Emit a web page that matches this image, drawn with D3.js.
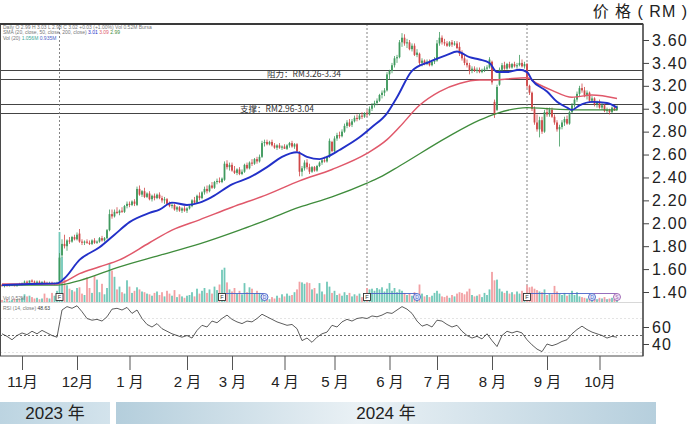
<!DOCTYPE html>
<html><head><meta charset="utf-8">
<script src="https://cdn.jsdelivr.net/npm/d3@7/dist/d3.min.js"></script>
<style>
body{margin:0;background:#fff;}
svg{display:block;}
</style></head><body>
<svg id="chart" width="690" height="424"></svg>
<script>
// ---------------- DATA ----------------
const openP = [
1.46,1.45,1.46,1.45,1.46,1.46,1.45,1.47,1.46,1.48,
1.49,1.48,1.50,1.49,1.48,1.49,1.48,1.49,1.48,1.47,
1.48,1.47,1.48,1.50,1.72,1.82,1.80,1.85,1.84,1.88,
1.86,1.91,1.84,1.83,1.84,1.83,1.82,1.85,1.83,1.84,
1.87,1.85,1.87,1.94,2.08,2.06,2.10,2.09,2.11,2.10,
2.15,2.17,2.16,2.19,2.16,2.30,2.25,2.28,2.23,2.26,
2.21,2.24,2.22,2.25,2.22,2.20,2.21,2.17,2.15,2.16,
2.12,2.14,2.11,2.13,2.11,2.13,2.15,2.20,2.18,2.24,
2.22,2.27,2.30,2.28,2.33,2.31,2.36,2.37,2.36,2.38,
2.52,2.49,2.51,2.46,2.44,2.47,2.43,2.45,2.51,2.48,
2.53,2.52,2.56,2.54,2.58,2.70,2.71,2.69,2.71,2.68,
2.66,2.68,2.66,2.67,2.65,2.68,2.70,2.67,2.69,2.62,
2.45,2.48,2.53,2.49,2.45,2.49,2.46,2.50,2.53,2.55,
2.54,2.58,2.71,2.63,2.74,2.77,2.76,2.80,2.85,2.88,
2.86,2.89,2.92,2.91,2.94,2.93,2.96,2.95,3.00,3.03,
3.05,3.07,3.12,3.14,3.16,3.30,3.33,3.38,3.44,3.45,
3.58,3.62,3.57,3.58,3.52,3.55,3.47,3.48,3.40,3.42,
3.39,3.41,3.38,3.41,3.42,3.57,3.62,3.58,3.57,3.55,
3.58,3.56,3.57,3.54,3.48,3.44,3.40,3.38,3.33,3.35,
3.33,3.34,3.32,3.34,3.35,3.36,3.41,3.06,2.99,3.21,
3.34,3.38,3.35,3.39,3.36,3.39,3.37,3.38,3.40,3.37,
3.39,3.20,3.14,3.00,2.88,2.82,2.90,2.80,2.97,2.95,
2.99,2.93,2.88,2.82,2.84,2.88,2.91,2.87,2.97,3.03,
3.08,3.13,3.18,3.16,3.12,3.14,3.07,3.09,3.04,3.06,
3.01,3.03,2.98,2.99,2.97,3.01,2.99];
const highP = [
1.47,1.46,1.47,1.46,1.47,1.46,1.47,1.48,1.48,1.50,
1.50,1.50,1.51,1.50,1.50,1.50,1.49,1.50,1.49,1.49,
1.49,1.48,1.49,1.74,1.86,1.90,1.86,1.88,1.89,1.90,
1.92,1.95,1.86,1.85,1.86,1.85,1.86,1.87,1.85,1.88,
1.89,1.88,1.95,2.12,2.12,2.12,2.14,2.12,2.14,2.16,
2.19,2.19,2.20,2.21,2.32,2.33,2.29,2.31,2.27,2.28,
2.25,2.26,2.26,2.27,2.24,2.23,2.22,2.19,2.18,2.17,
2.15,2.15,2.14,2.15,2.14,2.16,2.21,2.23,2.25,2.27,
2.28,2.32,2.33,2.34,2.36,2.37,2.39,2.40,2.40,2.54,
2.55,2.53,2.53,2.50,2.48,2.49,2.47,2.52,2.53,2.54,
2.56,2.57,2.58,2.60,2.72,2.73,2.73,2.72,2.73,2.70,
2.69,2.70,2.68,2.69,2.69,2.71,2.72,2.70,2.70,2.63,
2.50,2.55,2.56,2.52,2.50,2.50,2.51,2.54,2.56,2.58,
2.59,2.74,2.72,2.76,2.79,2.80,2.82,2.87,2.90,2.91,
2.91,2.94,2.95,2.96,2.97,2.97,2.99,3.02,3.05,3.07,
3.09,3.13,3.16,3.18,3.32,3.34,3.40,3.46,3.47,3.60,
3.66,3.65,3.61,3.60,3.57,3.57,3.52,3.49,3.44,3.43,
3.43,3.43,3.42,3.45,3.60,3.67,3.64,3.61,3.59,3.59,
3.60,3.59,3.59,3.58,3.51,3.47,3.43,3.40,3.37,3.37,
3.36,3.36,3.35,3.37,3.38,3.45,3.42,3.08,3.21,3.36,
3.40,3.41,3.40,3.41,3.40,3.41,3.40,3.47,3.43,3.41,
3.40,3.21,3.15,3.02,2.95,2.93,2.93,2.99,3.01,3.01,
3.01,2.95,2.90,2.86,2.90,2.93,2.94,2.98,3.05,3.10,
3.15,3.20,3.22,3.19,3.16,3.15,3.11,3.10,3.07,3.08,
3.05,3.04,3.01,3.00,3.02,3.03,3.03];
const lowP = [
1.45,1.44,1.45,1.45,1.45,1.45,1.45,1.46,1.46,1.47,
1.48,1.48,1.48,1.48,1.48,1.47,1.47,1.48,1.47,1.47,
1.47,1.46,1.47,1.49,1.70,1.78,1.76,1.82,1.83,1.85,
1.85,1.83,1.81,1.81,1.82,1.81,1.81,1.82,1.82,1.83,
1.84,1.84,1.86,1.93,2.04,2.05,2.08,2.07,2.09,2.09,
2.13,2.14,2.15,2.15,2.15,2.24,2.23,2.22,2.22,2.20,
2.19,2.20,2.21,2.21,2.18,2.17,2.16,2.14,2.13,2.11,
2.10,2.10,2.09,2.10,2.09,2.12,2.14,2.17,2.17,2.20,
2.21,2.25,2.26,2.27,2.30,2.30,2.34,2.35,2.35,2.37,
2.47,2.46,2.45,2.43,2.42,2.42,2.42,2.44,2.47,2.47,
2.50,2.51,2.52,2.53,2.57,2.67,2.68,2.68,2.67,2.65,
2.64,2.65,2.64,2.65,2.64,2.66,2.66,2.65,2.62,2.41,
2.41,2.46,2.47,2.43,2.44,2.45,2.45,2.49,2.51,2.53,
2.53,2.57,2.62,2.62,2.72,2.74,2.75,2.79,2.83,2.84,
2.84,2.88,2.89,2.90,2.91,2.92,2.93,2.94,2.98,3.01,
3.03,3.06,3.09,3.11,3.15,3.26,3.31,3.36,3.40,3.44,
3.54,3.55,3.53,3.51,3.50,3.46,3.45,3.38,3.37,3.38,
3.38,3.37,3.37,3.39,3.41,3.55,3.56,3.55,3.54,3.54,
3.54,3.55,3.52,3.46,3.42,3.38,3.36,3.30,3.31,3.32,
3.31,3.31,3.31,3.32,3.33,3.35,3.21,2.92,2.98,3.20,
3.32,3.34,3.34,3.35,3.35,3.36,3.35,3.37,3.36,3.35,
3.18,3.12,2.98,2.86,2.80,2.75,2.78,2.79,2.93,2.93,
2.92,2.86,2.80,2.67,2.82,2.85,2.86,2.86,2.96,3.01,
3.06,3.11,3.14,3.10,3.08,3.06,3.05,3.02,3.01,3.00,
2.99,2.97,2.96,2.95,2.96,2.98,2.98];
const closeP = [
1.45,1.46,1.45,1.46,1.46,1.45,1.47,1.46,1.48,1.49,
1.48,1.50,1.49,1.48,1.49,1.48,1.49,1.48,1.47,1.48,
1.47,1.48,1.48,1.70,1.82,1.80,1.85,1.84,1.88,1.86,
1.90,1.84,1.83,1.84,1.83,1.82,1.85,1.83,1.84,1.87,
1.85,1.87,1.94,2.08,2.06,2.10,2.09,2.11,2.10,2.15,
2.17,2.16,2.19,2.17,2.30,2.25,2.28,2.23,2.26,2.21,
2.24,2.22,2.25,2.22,2.20,2.21,2.17,2.15,2.16,2.12,
2.14,2.11,2.13,2.11,2.13,2.15,2.20,2.18,2.24,2.22,
2.27,2.30,2.28,2.33,2.31,2.36,2.37,2.36,2.39,2.52,
2.49,2.51,2.46,2.44,2.47,2.43,2.45,2.51,2.48,2.53,
2.52,2.56,2.54,2.58,2.70,2.71,2.69,2.71,2.68,2.66,
2.68,2.66,2.67,2.65,2.68,2.70,2.67,2.69,2.63,2.45,
2.48,2.53,2.49,2.45,2.49,2.46,2.50,2.53,2.55,2.54,
2.58,2.72,2.63,2.74,2.77,2.76,2.80,2.85,2.88,2.85,
2.89,2.92,2.91,2.94,2.93,2.96,2.95,3.00,3.03,3.05,
3.07,3.12,3.14,3.16,3.30,3.33,3.38,3.44,3.45,3.58,
3.62,3.57,3.58,3.52,3.55,3.47,3.49,3.40,3.42,3.39,
3.41,3.38,3.41,3.42,3.57,3.62,3.58,3.57,3.55,3.58,
3.56,3.57,3.53,3.48,3.44,3.40,3.38,3.33,3.35,3.33,
3.34,3.32,3.34,3.35,3.36,3.43,3.23,2.95,3.19,3.34,
3.38,3.35,3.39,3.36,3.39,3.37,3.38,3.40,3.37,3.39,
3.20,3.14,3.00,2.88,2.82,2.90,2.80,2.97,2.95,2.99,
2.93,2.88,2.82,2.84,2.88,2.91,2.87,2.97,3.03,3.08,
3.13,3.18,3.16,3.12,3.14,3.07,3.09,3.04,3.06,3.01,
3.03,2.98,2.99,2.97,3.01,2.99,3.02];
// volume, millions of shares
const volume = [
0.3,0.2,0.4,0.2,0.3,0.5,0.4,0.3,0.6,1.1,
0.8,0.9,0.7,0.5,0.6,0.4,0.5,1.2,0.6,0.5,
1.3,0.9,1.6,10.0,6.4,3.2,2.4,1.9,1.7,1.5,
2.0,2.1,1.2,1.0,3.5,2.0,1.3,3.7,3.2,1.4,
2.6,1.1,2.0,5.5,4.5,3.6,1.8,2.2,1.4,1.2,
3.1,2.2,1.3,1.6,2.1,1.8,1.5,1.4,1.2,1.1,
0.9,1.3,1.5,1.0,1.4,0.8,1.6,1.2,0.9,1.7,
0.7,1.1,0.8,0.6,0.9,1.0,1.4,0.8,1.9,1.2,
1.6,2.0,1.3,1.8,1.2,2.2,1.7,2.5,4.6,4.9,
2.8,1.8,1.5,2.0,1.2,1.6,1.1,2.7,1.4,2.1,
1.9,1.2,1.6,1.3,1.0,0.6,0.5,0.4,0.7,0.5,
0.9,0.6,1.1,0.8,1.2,0.9,1.0,1.4,1.8,2.9,
2.8,2.6,2.8,2.7,1.8,2.0,1.2,2.7,1.5,1.1,
2.9,2.2,1.3,1.6,1.0,1.2,0.9,1.4,1.0,1.3,
0.8,1.1,0.9,1.2,0.7,1.0,2.0,1.8,1.9,1.6,
2.0,1.8,2.1,1.5,1.9,2.7,1.6,2.0,1.4,1.8,
1.6,1.3,1.0,1.2,0.9,1.4,1.1,2.5,1.2,0.8,
1.0,0.7,0.9,1.3,1.6,1.2,0.8,0.7,0.9,0.6,
1.0,0.8,1.2,1.4,1.3,1.1,1.5,1.9,1.0,0.8,
0.9,1.1,0.7,1.3,1.0,1.8,4.3,3.1,3.2,1.9,
1.5,1.3,1.6,1.2,1.4,1.1,1.5,1.2,1.6,1.3,
2.4,2.1,2.2,1.9,1.7,1.5,1.4,1.8,1.0,1.2,
1.1,2.3,1.5,1.2,1.0,1.3,0.9,1.1,1.6,1.0,
1.4,0.8,0.7,0.6,0.5,0.7,0.5,0.6,0.4,0.6,
0.5,0.7,0.4,0.5,0.6,0.4,0.5];

// moving averages (trading-day index, price)
const ma20Days = [0,11,22,25,31,39,45,51,59,63,68,74,79,84,92,99,106,112,118,122,127,130,135,143,148,154,158,164,171,178,182,187,191,195,198,202,207,210,212,218,222,226,228,231,236,242,246];
const ma20Vals = [1.46,1.47,1.475,1.52,1.68,1.79,1.90,2.01,2.09,2.12,2.18,2.16,2.18,2.23,2.34,2.40,2.49,2.58,2.62,2.58,2.56,2.58,2.64,2.75,2.84,2.96,3.10,3.33,3.41,3.47,3.50,3.45,3.43,3.40,3.32,3.32,3.34,3.32,3.25,3.15,3.06,3.01,2.99,3.03,3.06,3.05,3.01];
const ma50Days = [0,22,25,31,39,47,59,68,79,92,106,119,132,146,154,159,167,175,183,191,196,202,210,214,220,228,236,246];
const ma50Vals = [1.47,1.47,1.49,1.56,1.62,1.68,1.83,1.94,2.03,2.14,2.25,2.37,2.47,2.61,2.73,2.84,3.03,3.15,3.22,3.25,3.25,3.26,3.27,3.22,3.16,3.10,3.12,3.09];
const ma200Days = [0,22,31,47,63,79,95,106,119,132,146,151,159,178,191,198,210,218,231,246];
const ma200Vals = [1.46,1.46,1.50,1.62,1.72,1.82,1.94,2.03,2.14,2.23,2.35,2.40,2.50,2.75,2.90,2.96,3.01,3.00,2.99,2.99];

// RSI(14), one reading every second trading day
const rsiVals = [52,49,45,50,53,51,55,52,56,53,50,48,
80,84,82,85,78,70,68,69,67,72,81,82,80,83,76,80,70,63,60,64,58,55,52,50,48,50,47,56,
62,60,67,65,70,74,69,66,64,67,66,70,75,72,69,66,64,62,63,58,44,47,42,48,52,54,62,60,
66,69,67,70,71,70,73,72,74,77,76,80,84,81,76,67,61,63,60,68,67,63,60,62,55,50,47,49,
46,52,44,37,50,55,53,55,53,45,39,34,31,40,38,40,43,45,52,57,61,57,54,52,50,47,49,48];

const priceTicks = [3.60,3.40,3.20,3.00,2.80,2.60,2.40,2.20,2.00,1.80,1.60,1.40];
const rsiTicks = [60,40];
const monthDays = [8,30,51,74,92,113,133,155,174,196,218,239];
const monthLabels = ["11月","12月","1 月","2 月","3 月","4 月","5 月","6 月","7 月","8 月","9 月","10月"];
const resistance = [3.26,3.34];
const support = [2.96,3.04];
const earningsDays = [23,88,146,210];   // "F" markers
const dividendDays = [105,166,236];     // "D" markers
const otherDays = [246];
const dottedDays = [23,146,210];

// ---------------- DRAW ----------------
const svg = d3.select("#chart");
const L = 0, R = 643, T = 24, B = 356;
const x = d3.scaleLinear().domain([0, closeP.length - 1]).range([2, 617]);
const y = d3.scaleLinear().domain([1.40, 3.60]).range([292, 40]);
const yVol = d3.scaleLinear().domain([0, 10]).range([302, 232]);
const yRsi = d3.scaleLinear().domain([40, 60]).range([344, 327]);

const defs = svg.append("defs");
defs.append("clipPath").attr("id","plot").append("rect")
  .attr("x",L).attr("y",T).attr("width",R-L).attr("height",B-T);
const g23 = defs.append("linearGradient").attr("id","g23");
g23.append("stop").attr("offset","0%").attr("stop-color","#bcd4e1");
g23.append("stop").attr("offset","100%").attr("stop-color","#d3e3ec");
const g24 = defs.append("linearGradient").attr("id","g24");
g24.append("stop").attr("offset","0%").attr("stop-color","#b4cedc");
g24.append("stop").attr("offset","45%").attr("stop-color","#eaf1f5");
g24.append("stop").attr("offset","100%").attr("stop-color","#b6cfdd");

svg.append("rect").attr("width",690).attr("height",424).attr("fill","#fff");

const plot = svg.append("g").attr("clip-path","url(#plot)");

// volume / rsi separators
plot.append("line").attr("x1",L).attr("x2",R).attr("y1",yVol(0)+0.5).attr("y2",yVol(0)+0.5)
  .attr("stroke","#d8d8d8");
[70,30].forEach(v => plot.append("line").attr("x1",L).attr("x2",R)
  .attr("y1",yRsi(v)).attr("y2",yRsi(v)).attr("stroke","#e4e4e4").attr("stroke-dasharray","2,2"));
plot.append("line").attr("x1",L).attr("x2",R).attr("y1",yRsi(50)).attr("y2",yRsi(50))
  .attr("stroke","#555").attr("stroke-width",0.9).attr("stroke-dasharray","2,2");

// support / resistance lines
resistance.concat(support).forEach(v => plot.append("line")
  .attr("x1",L).attr("x2",R).attr("y1",Math.round(y(v))+0.5).attr("y2",Math.round(y(v))+0.5)
  .attr("stroke","#444").attr("stroke-width",1));

// vertical dotted event lines
dottedDays.forEach(d => plot.append("line")
  .attr("x1",x(d)).attr("x2",x(d)).attr("y1",T).attr("y2",293)
  .attr("stroke","#777").attr("stroke-width",0.9).attr("stroke-dasharray","2,2"));

// volume bars
const idx = d3.range(closeP.length);
plot.append("g").selectAll("rect").data(idx).join("rect")
  .attr("x", i => x(i) - 0.9).attr("width", 1.8)
  .attr("y", i => yVol(volume[i])).attr("height", i => yVol(0) - yVol(volume[i]))
  .attr("fill", i => closeP[i] >= openP[i] ? "#72c8b8" : "#f2a0a3");

// marker connectors
function connector(a, b, color, dash) {
  plot.append("line").attr("x1",x(a)).attr("x2",x(b)).attr("y1",293.5).attr("y2",293.5)
    .attr("stroke",color).attr("stroke-width",0.9).attr("stroke-dasharray",dash||null);
}
connector(earningsDays[1], dividendDays[0], "#4a63c8");
connector(earningsDays[2], dividendDays[1], "#4a63c8");
connector(earningsDays[3], dividendDays[2], "#4a63c8");
connector(dividendDays[2], otherDays[0], "#8a5fb5");
plot.append("line").attr("x1",x(dividendDays[2])).attr("x2",x(otherDays[0]))
  .attr("y1",300).attr("y2",300).attr("stroke","#b9a0d0").attr("stroke-width",0.8).attr("stroke-dasharray","1.5,1.5");

// RSI
const rsiLine = d3.line().x((d,k) => x(k*2)).y(d => yRsi(d));
plot.append("path").datum(rsiVals).attr("d", rsiLine)
  .attr("fill","none").attr("stroke","#333").attr("stroke-width",0.8);

// candles
const cg = plot.append("g");
cg.selectAll("line").data(idx).join("line")
  .attr("x1", i => x(i)).attr("x2", i => x(i))
  .attr("y1", i => y(highP[i])).attr("y2", i => y(lowP[i]))
  .attr("stroke", i => closeP[i] >= openP[i] ? "#3f9a5e" : "#cf4848").attr("stroke-width",0.8);
cg.selectAll("rect").data(idx).join("rect")
  .attr("x", i => x(i) - 0.9).attr("width", 1.8)
  .attr("y", i => y(Math.max(openP[i], closeP[i])))
  .attr("height", i => Math.max(0.8, Math.abs(y(openP[i]) - y(closeP[i]))))
  .attr("fill", i => closeP[i] >= openP[i] ? "#3f9a5e" : "#cf4848");

// moving averages
function maLine(days, vals, color, w) {
  const pts = days.map((d,k) => [x(d), y(vals[k])]);
  plot.append("path").datum(pts).attr("d", d3.line().curve(d3.curveMonotoneX))
    .attr("fill","none").attr("stroke",color).attr("stroke-width",w);
}
maLine(ma200Days, ma200Vals, "#3f8c3c", 1.3);
maLine(ma50Days, ma50Vals, "#e0586a", 1.5);
maLine(ma20Days, ma20Vals, "#2230c8", 1.9);

// markers
function squareMarker(d) {
  const g = plot.append("g").attr("transform", `translate(${x(d)},297)`);
  g.append("rect").attr("x",-3.5).attr("y",-3.5).attr("width",7).attr("height",7)
    .attr("fill","#fff").attr("stroke","#333").attr("stroke-width",0.9);
  g.append("text").attr("text-anchor","middle").attr("y",2).attr("font-size",5.5)
    .attr("font-family","Liberation Sans, Arial").attr("fill","#333").text("F");
}
function circleMarker(d, stroke, fill, label) {
  const g = plot.append("g").attr("transform", `translate(${x(d)},297)`);
  g.append("circle").attr("r",3.5).attr("fill",fill).attr("stroke",stroke).attr("stroke-width",0.9);
  g.append("text").attr("text-anchor","middle").attr("y",1.8).attr("font-size",5)
    .attr("font-family","Liberation Sans, Arial").attr("fill",stroke).text(label);
}
earningsDays.forEach(squareMarker);
dividendDays.forEach(d => circleMarker(d, "#4a63c8", "#e6ecfb", "D"));
otherDays.forEach(d => circleMarker(d, "#9a5fb0", "#f3e8f6", "S"));

// band labels
const bandFont = "'Noto Sans CJK SC', 'Liberation Sans', sans-serif";
svg.append("text").attr("x",304).attr("y",y((resistance[0]+resistance[1])/2)+3)
  .attr("text-anchor","middle").attr("font-size",8.5).attr("font-family",bandFont).attr("fill","#333")
  .text(`阻力：RM${resistance[0].toFixed(2)}-${resistance[1].toFixed(2)}`);
svg.append("text").attr("x",277).attr("y",y((support[0]+support[1])/2)+3)
  .attr("text-anchor","middle").attr("font-size",8.5).attr("font-family",bandFont).attr("fill","#333")
  .text(`支撑：RM${support[0].toFixed(2)}-${support[1].toFixed(2)}`);

// tiny legend rows
const tiny = svg.append("g").attr("font-family","Liberation Sans, Arial").attr("font-size",5).attr("fill","#777");
tiny.append("text").attr("x",3).attr("y",28.5)
  .text("Daily  O 2.99  H 3.03  L 2.98  C 3.02  +0.03 (+1.00%)   Vol 0.52M   Bursa");
const r2 = tiny.append("text").attr("x",3).attr("y",34);
r2.append("tspan").text("SMA (20, close, 50, close, 200, close)  ");
r2.append("tspan").attr("fill","#2230c8").text("3.01 ");
r2.append("tspan").attr("fill","#e0586a").text("3.09 ");
r2.append("tspan").attr("fill","#3f8c3c").text("2.99");
const r3 = tiny.append("text").attr("x",3).attr("y",39.5);
r3.append("tspan").text("Vol (20)  ");
r3.append("tspan").attr("fill","#3aa898").text("1.056M  ");
r3.append("tspan").attr("fill","#4a63c8").text("0.935M");
tiny.append("text").attr("x",3).attr("y",300).text("Vol  0.52M");
const r4 = tiny.append("text").attr("x",3).attr("y",310);
r4.append("tspan").text("RSI (14, close)  ");
r4.append("tspan").attr("fill","#333").text("48.63");

// frame
svg.append("rect").attr("x",L+0.5).attr("y",T).attr("width",R-L-0.5).attr("height",B-T)
  .attr("fill","none").attr("stroke","#4a4a4a").attr("stroke-width",1);
svg.append("line").attr("x1",L).attr("x2",R).attr("y1",T).attr("y2",T)
  .attr("stroke","#3a3a3a").attr("stroke-width",2);

// right axes
const axFont = "'Liberation Sans', Arial, sans-serif";
const yAxis = svg.append("g").attr("transform",`translate(${R},0)`)
  .call(d3.axisRight(y).tickValues(priceTicks).tickFormat(d3.format(".2f")).tickSize(6).tickPadding(3));
const rAxis = svg.append("g").attr("transform",`translate(${R},0)`)
  .call(d3.axisRight(yRsi).tickValues(rsiTicks).tickFormat(d3.format("d")).tickSize(6).tickPadding(3));
[yAxis, rAxis].forEach(a => {
  a.select(".domain").remove();
  a.selectAll(".tick line").attr("stroke","#444");
  a.selectAll(".tick text").attr("font-family",axFont).attr("font-size",16)
    .attr("letter-spacing","1.2px").attr("fill","#222");
});
svg.append("line").attr("x1",R).attr("x2",R).attr("y1",T).attr("y2",B).attr("stroke","#444").attr("stroke-width",1.2);

// bottom month axis
const xAxis = svg.append("g").attr("transform",`translate(0,${B})`)
  .call(d3.axisBottom(x).tickValues(monthDays).tickFormat((d,i) => monthLabels[i]).tickSize(14).tickPadding(6));
xAxis.select(".domain").remove();
xAxis.selectAll(".tick line").attr("stroke","#555");
xAxis.selectAll(".tick text").attr("font-family","'Liberation Sans', 'Noto Sans CJK SC', sans-serif")
  .attr("font-size",15).attr("fill","#222");

// year bands
svg.append("rect").attr("x",0).attr("y",402).attr("width",110).attr("height",22).attr("fill","url(#g23)");
svg.append("rect").attr("x",116).attr("y",402).attr("width",540).attr("height",22).attr("fill","url(#g24)");
const yearFont = "'Liberation Sans', 'Noto Sans CJK SC', sans-serif";
svg.append("text").attr("x",55).attr("y",419).attr("text-anchor","middle").attr("font-size",17)
  .attr("font-family",yearFont).attr("fill","#222").text("2023 年");
svg.append("text").attr("x",386).attr("y",419).attr("text-anchor","middle").attr("font-size",17)
  .attr("font-family",yearFont).attr("fill","#222").text("2024 年");

// unit title
svg.append("text").attr("x",688).attr("y",17).attr("text-anchor","end").attr("font-size",16)
  .attr("font-family","'Liberation Sans', 'Noto Sans CJK SC', sans-serif").attr("fill","#222")
  .attr("letter-spacing","1px").text("价 格 ( RM )");
</script>
</body></html>
